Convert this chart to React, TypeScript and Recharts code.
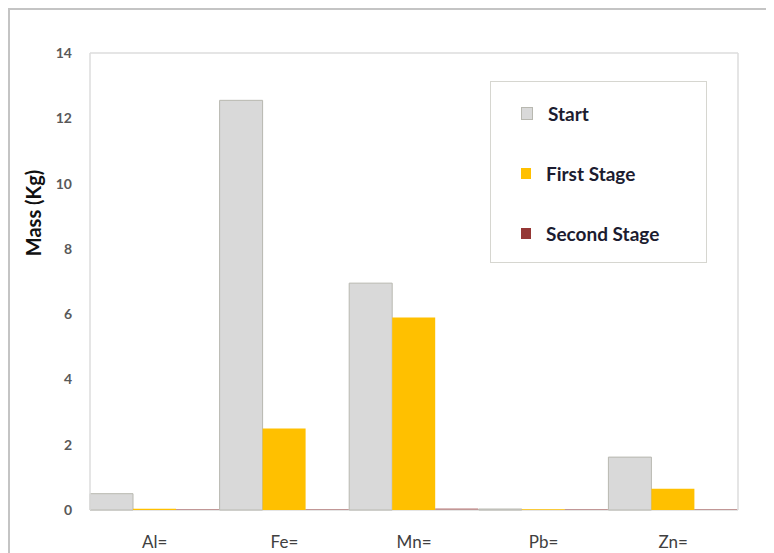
import { BarChart, Bar, XAxis, YAxis, CartesianGrid, Legend, Label } from "recharts";

const elements = ["Al=", "Fe=", "Mn=", "Pb=", "Zn="];
const startMass = [0.5, 12.55, 6.95, 0.03, 1.62];
const firstStageMass = [0.04, 2.5, 5.9, 0.02, 0.65];
const secondStageMass = [0.03, 0.03, 0.05, 0.03, 0.03];
const seriesNames = ["Start", "First Stage", "Second Stage"];
const yTicks = [0, 2, 4, 6, 8, 10, 12, 14];

const data = elements.map((name, i) => ({
  name,
  start: startMass[i],
  first: firstStageMass[i],
  second: secondStageMass[i],
}));

const FONT = "Lato, 'Open Sans', sans-serif";

const LegendBox = ({ payload }: any) => {
  const items = seriesNames
    .map((n) => (payload || []).find((p: any) => p.value === n))
    .filter(Boolean);
  return (
    <div
      style={{
        width: 217,
        height: 182,
        boxSizing: "border-box",
        border: "1px solid #d6d6d0",
        background: "#fff",
        paddingTop: 1,
        fontFamily: FONT,
      }}>
      {items.map((p: any) => (
        <div
          key={p.value}
          style={{
            display: "flex",
            alignItems: "center",
            height: 60,
          }}>
          <span
            style={{
              display: "inline-block",
              width: 10,
              height: 11,
              marginLeft: 30,
              marginRight: 15,
              background: p.color,
              border: p.value === "Start" ? "1px solid #b8b8b0" : "none",
            }}
          />
          <span style={{ fontSize: 19, fontWeight: 700, color: "#1c1c30" }}>
            {p.value}
          </span>
        </div>
      ))}
    </div>
  );
};

const AxisTitle = ({ viewBox }: any) => {
  const x = viewBox.x + 23;
  const y = viewBox.y + viewBox.height * 0.35;
  return (
    <text
      x={x}
      y={y}
      transform={`rotate(-90, ${x}, ${y})`}
      textAnchor="middle"
      dominantBaseline="central"
      fontFamily={FONT}
      fontSize={20}
      fontWeight={700}
      fill="#111">
      Mass (Kg)
    </text>
  );
};

export default function App() {
  return (
    <div
      style={{
        width: 764,
        height: 543,
        borderTop: "2px solid #c4c4c4",
        borderLeft: "2px solid #c4c4c4",
        background: "#fff",
      }}>
      <BarChart
        width={764}
        height={543}
        data={data}
        margin={{ top: 43, right: 35, left: 0, bottom: 0 }}
        barCategoryGap={0}
        barGap={0}>
        <CartesianGrid vertical={false} stroke="#dcdcdc" strokeWidth={1.5} />
        <XAxis
          dataKey="name"
          height={43}
          tickLine={false}
          axisLine={false}
          tickSize={0}
          tickMargin={26}
          tick={{ fontFamily: FONT, fontSize: 17, fill: "#404040" }}
        />
        <YAxis
          yAxisId="left"
          width={80}
          domain={[0, 14]}
          ticks={yTicks}
          tickLine={false}
          tickSize={0}
          tickMargin={18}
          axisLine={{ stroke: "#dcdcdc", strokeWidth: 1.5 }}
          tick={{ fontFamily: FONT, fontSize: 14, fontWeight: 700, fill: "#595959" }}>
          <Label content={<AxisTitle />} />
        </YAxis>
        <YAxis
          yAxisId="right"
          orientation="right"
          width={1}
          domain={[0, 14]}
          tick={false}
          tickLine={false}
          axisLine={{ stroke: "#dcdcdc", strokeWidth: 1.5 }}
        />
        <Legend
          layout="horizontal"
          verticalAlign="middle"
          align="center"
          content={<LegendBox />}
          wrapperStyle={{ left: 480, top: 71, width: 217, height: 182 }}
        />
        <Bar
          yAxisId="left"
          dataKey="start"
          name="Start"
          fill="#d9d9d9"
          stroke="#b8b8b0"
          strokeWidth={1}
          isAnimationActive={false}
        />
        <Bar
          yAxisId="left"
          dataKey="first"
          name="First Stage"
          fill="#ffc000"
          isAnimationActive={false}
        />
        <Bar
          yAxisId="left"
          dataKey="second"
          name="Second Stage"
          fill="#953735"
          fillOpacity={0.45}
          isAnimationActive={false}
        />
      </BarChart>
    </div>
  );
}
